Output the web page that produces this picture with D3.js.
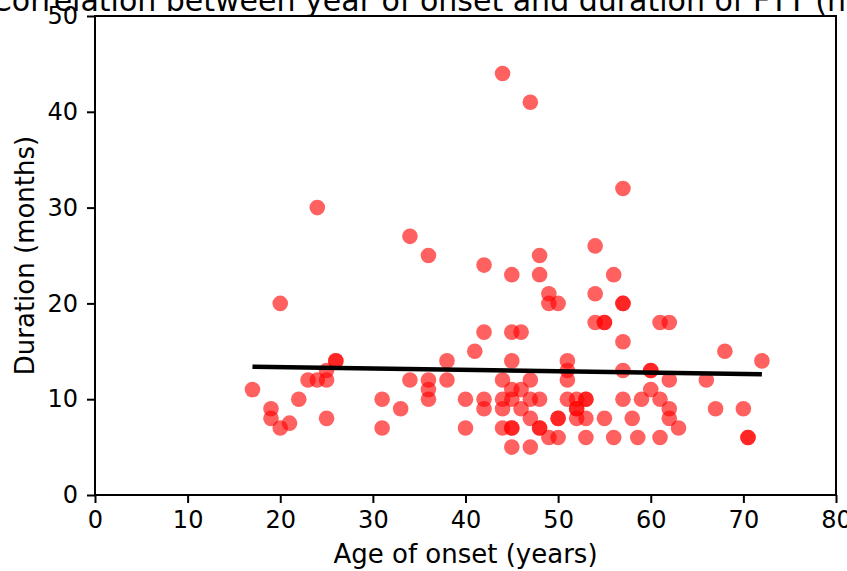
<!DOCTYPE html>
<html>
<head>
<meta charset="utf-8">
<script src="https://cdn.jsdelivr.net/npm/d3@7"></script>
<style>
    body { margin: 0; background: #fff; }
    text { font-family: "DejaVu Sans", sans-serif; fill: #000; }
</style>
</head>
<body>
<svg id="chart" width="847" height="571"></svg>
<script>
// age of onset (years) and duration (months), one entry per patient
const ages = [17, 19, 19, 20, 20, 21, 22, 23, 24, 24, 25, 25, 25, 26, 26,
    31, 31, 33, 34, 34, 36, 36, 36, 36, 38, 38, 40, 40, 41, 42, 42, 42, 42,
    44, 44, 44, 44, 44, 45, 45, 45, 45, 45, 45, 45, 45, 46, 46, 46,
    47, 47, 47, 47, 47, 48, 48, 48, 48, 48, 49, 49, 49, 50, 50, 50, 50,
    51, 51, 51, 51, 52, 52, 52, 52, 53, 53, 53, 53, 54, 54, 54, 55, 55, 55,
    56, 56, 57, 57, 57, 57, 57, 57, 58, 58.6, 59, 60, 60, 60, 61, 61, 61,
    62, 62, 62, 62, 63, 66, 67, 68, 70, 70.5, 70.5, 72];
const durations = [11, 9, 8, 7, 20, 7.5, 10, 12, 12, 30, 12, 13, 8, 14, 14,
    10, 7, 9, 27, 12, 25, 12, 11, 10, 14, 12, 10, 7, 15, 24, 17, 10, 9,
    44, 12, 10, 9, 7, 23, 17, 14, 11, 10, 7, 7, 5, 17, 11, 9,
    41, 12, 10, 8, 5, 25, 23, 10, 7, 7, 21, 20, 6, 20, 8, 8, 6,
    14, 13, 12, 10, 10, 9, 9, 8, 10, 10, 8, 6, 26, 21, 18, 18, 18, 8,
    23, 6, 32, 20, 20, 16, 13, 10, 8, 6, 10, 13, 13, 11, 18, 10, 6,
    18, 12, 9, 8, 7, 12, 9, 15, 9, 6, 6, 14];

// fitted regression line, read at its two ends
const fitAges = [17, 72];
const fitDurations = [13.4, 12.6];

const xTicks = [0, 10, 20, 30, 40, 50, 60, 70, 80];
const yTicks = [0, 10, 20, 30, 40, 50];

const titleText = "Correlation between year of onset and duration of FTT (n=113)";
const xLabel = "Age of onset (years)";
const yLabel = "Duration (months)";

const plotLeft = 95, plotRight = 836, plotTop = 16, plotBottom = 495;

const svg = d3.select("#chart");

let x = d3.scaleLinear().domain([0, 80]).range([plotLeft, plotRight]);
let y = d3.scaleLinear().domain([0, 50]).range([plotBottom, plotTop]);

let points = ages.map((a, i) => ({age: a, dur: durations[i]}));

// dots
svg.append("g")
    .selectAll("circle")
    .data(points)
    .enter().append("circle")
    .attr("cx", d => x(d.age))
    .attr("cy", d => y(d.dur))
    .attr("r", 7.8)
    .attr("fill", "red")
    .attr("fill-opacity", 0.62);

// regression line
let fit = fitAges.map((a, i) => [a, fitDurations[i]]);
svg.append("path")
    .datum(fit)
    .attr("d", d3.line().x(d => x(d[0])).y(d => y(d[1])))
    .attr("stroke", "#000")
    .attr("stroke-width", 4.5)
    .attr("fill", "none");

// axes
let xAxis = svg.append("g")
    .attr("transform", "translate(0," + plotBottom + ")")
    .call(d3.axisBottom(x).tickValues(xTicks).tickSize(8).tickPadding(8).tickFormat(d3.format("d")));
let yAxis = svg.append("g")
    .attr("transform", "translate(" + plotLeft + ",0)")
    .call(d3.axisLeft(y).tickValues(yTicks).tickSize(8).tickPadding(9).tickFormat(d3.format("d")));

[xAxis, yAxis].forEach(g => {
    g.select(".domain").remove();
    g.selectAll(".tick line").attr("stroke", "#000").attr("stroke-width", 2);
    g.selectAll(".tick text")
        .attr("font-size", 24)
        .attr("font-family", "DejaVu Sans")
        .attr("fill", "#000");
});

// frame
svg.append("rect")
    .attr("x", plotLeft)
    .attr("y", plotTop)
    .attr("width", plotRight - plotLeft)
    .attr("height", plotBottom - plotTop)
    .attr("fill", "none")
    .attr("stroke", "#000")
    .attr("stroke-width", 2);

// labels
svg.append("text")
    .attr("x", (plotLeft + plotRight) / 2)
    .attr("y", 563)
    .attr("text-anchor", "middle")
    .attr("font-size", 26)
    .text(xLabel);

svg.append("text")
    .attr("transform", "translate(34," + (plotTop + plotBottom) / 2 + ") rotate(-90)")
    .attr("text-anchor", "middle")
    .attr("font-size", 26)
    .text(yLabel);

svg.append("text")
    .attr("x", (plotLeft + plotRight) / 2)
    .attr("y", 11)
    .attr("text-anchor", "middle")
    .attr("font-size", 30)
    .text(titleText);
</script>
</body>
</html>
